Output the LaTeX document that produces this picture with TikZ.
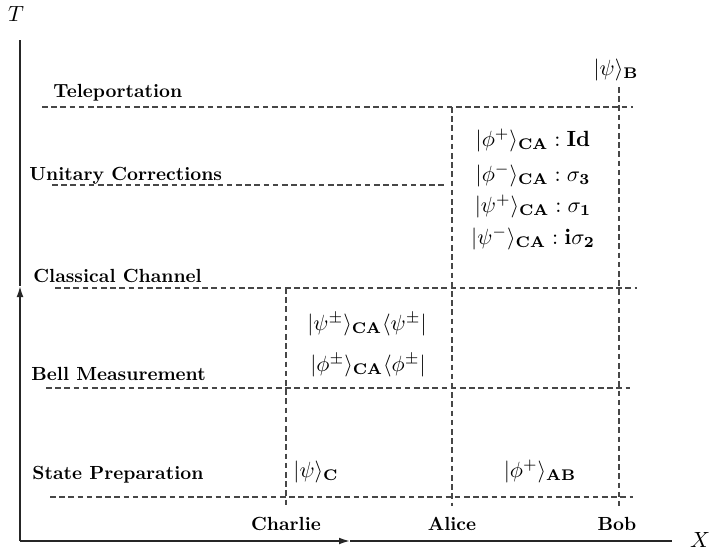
\RequirePackage{fix-cm}
\documentclass[tikz,border=0pt]{standalone}
\usetikzlibrary{arrows.meta}
\begin{document}
\begin{tikzpicture}[x=0.5pt,y=-0.5pt,
  axis/.style={line width=0.8pt, draw=black!85},
  gridline/.style={line width=0.55pt, draw=black!72, dash pattern=on 2.8pt off 1.8pt},
  lab/.style={font=\fontsize{9.5}{11}\selectfont\bfseries, anchor=base west, inner sep=0pt},
  who/.style={font=\fontsize{9.5}{11}\selectfont\bfseries, anchor=base, inner sep=0pt},
  st/.style={font=\fontsize{11}{13}\selectfont, anchor=base, inner sep=0pt},
  axtip/.style={-{Latex[length=5.5pt,width=3.4pt]}}]
\useasboundingbox (0,0) rectangle (709,553);
% axes
\coordinate (O) at (20,541);
\coordinate (Ttop) at (20,40);
\coordinate (Tmid) at (20,286);
\coordinate (Xmid) at (350,541);
\coordinate (Xend) at (672,541);
\draw[axis,axtip] (O) -- (Tmid);
\draw[axis] (Tmid) -- (Ttop);
\draw[axis,axtip] (O) -- (Xmid);
\draw[axis] (Xmid) -- (Xend);
\node[font=\fontsize{11}{13}\selectfont] (T) at (16,14) {$T$};
\node[font=\fontsize{11}{13}\selectfont] (X) at (700,540) {$X$};
% horizontal dashed lines
\draw[gridline] (42,107) -- (633,107);
\draw[gridline] (52,185) -- (445,185);
\draw[gridline] (55,288) -- (637,288);
\draw[gridline] (46,388) -- (630,388);
\draw[gridline] (50,497) -- (633,497);
% vertical dashed lines
\draw[gridline] (286,288) -- (286,506);
\draw[gridline] (452,107) -- (452,506);
\draw[gridline] (619,87) -- (619,506);
% stage labels
\node[lab] (tele) at (53,97) {Teleportation};
\node[lab] (uni) at (29,180) {Unitary Corrections};
\node[lab] (cc) at (33,282) {Classical Channel};
\node[lab] (bm) at (31,380) {Bell Measurement};
\node[lab] (sp) at (32,479) {State Preparation};
% parties
\node[who] (charlie) at (286,530) {Charlie};
\node[who] (alice) at (452,530) {Alice};
\node[who] (bob) at (617,530) {Bob};
% states
\node[st] (psiB) at (616,75) {$|\psi\rangle_{\mathbf{B}}$};
\node[st] (u1) at (533,146.5) {$|\phi^+\rangle_{\mathbf{CA}}:\mathbf{Id}$};
\node[st] (u2) at (533,181.5) {$|\phi^-\rangle_{\mathbf{CA}}:\sigma_{\mathbf{3}}$};
\node[st] (u3) at (533,212.5) {$|\psi^+\rangle_{\mathbf{CA}}:\sigma_{\mathbf{1}}$};
\node[st] (u4) at (533,244.5) {$|\psi^-\rangle_{\mathbf{CA}}:\mathbf{i}\sigma_{\mathbf{2}}$};
\node[st] (b1) at (367,330) {$|\psi^\pm\rangle_{\mathbf{CA}}\langle\psi^\pm|$};
\node[st] (b2) at (368,371.5) {$|\phi^\pm\rangle_{\mathbf{CA}}\langle\phi^\pm|$};
\node[st,anchor=base west] (psiC) at (293,477) {$|\psi\rangle_{\mathbf{C}}$};
\node[st] (phiAB) at (540,477) {$|\phi^+\rangle_{\mathbf{AB}}$};
\end{tikzpicture}
\end{document}
